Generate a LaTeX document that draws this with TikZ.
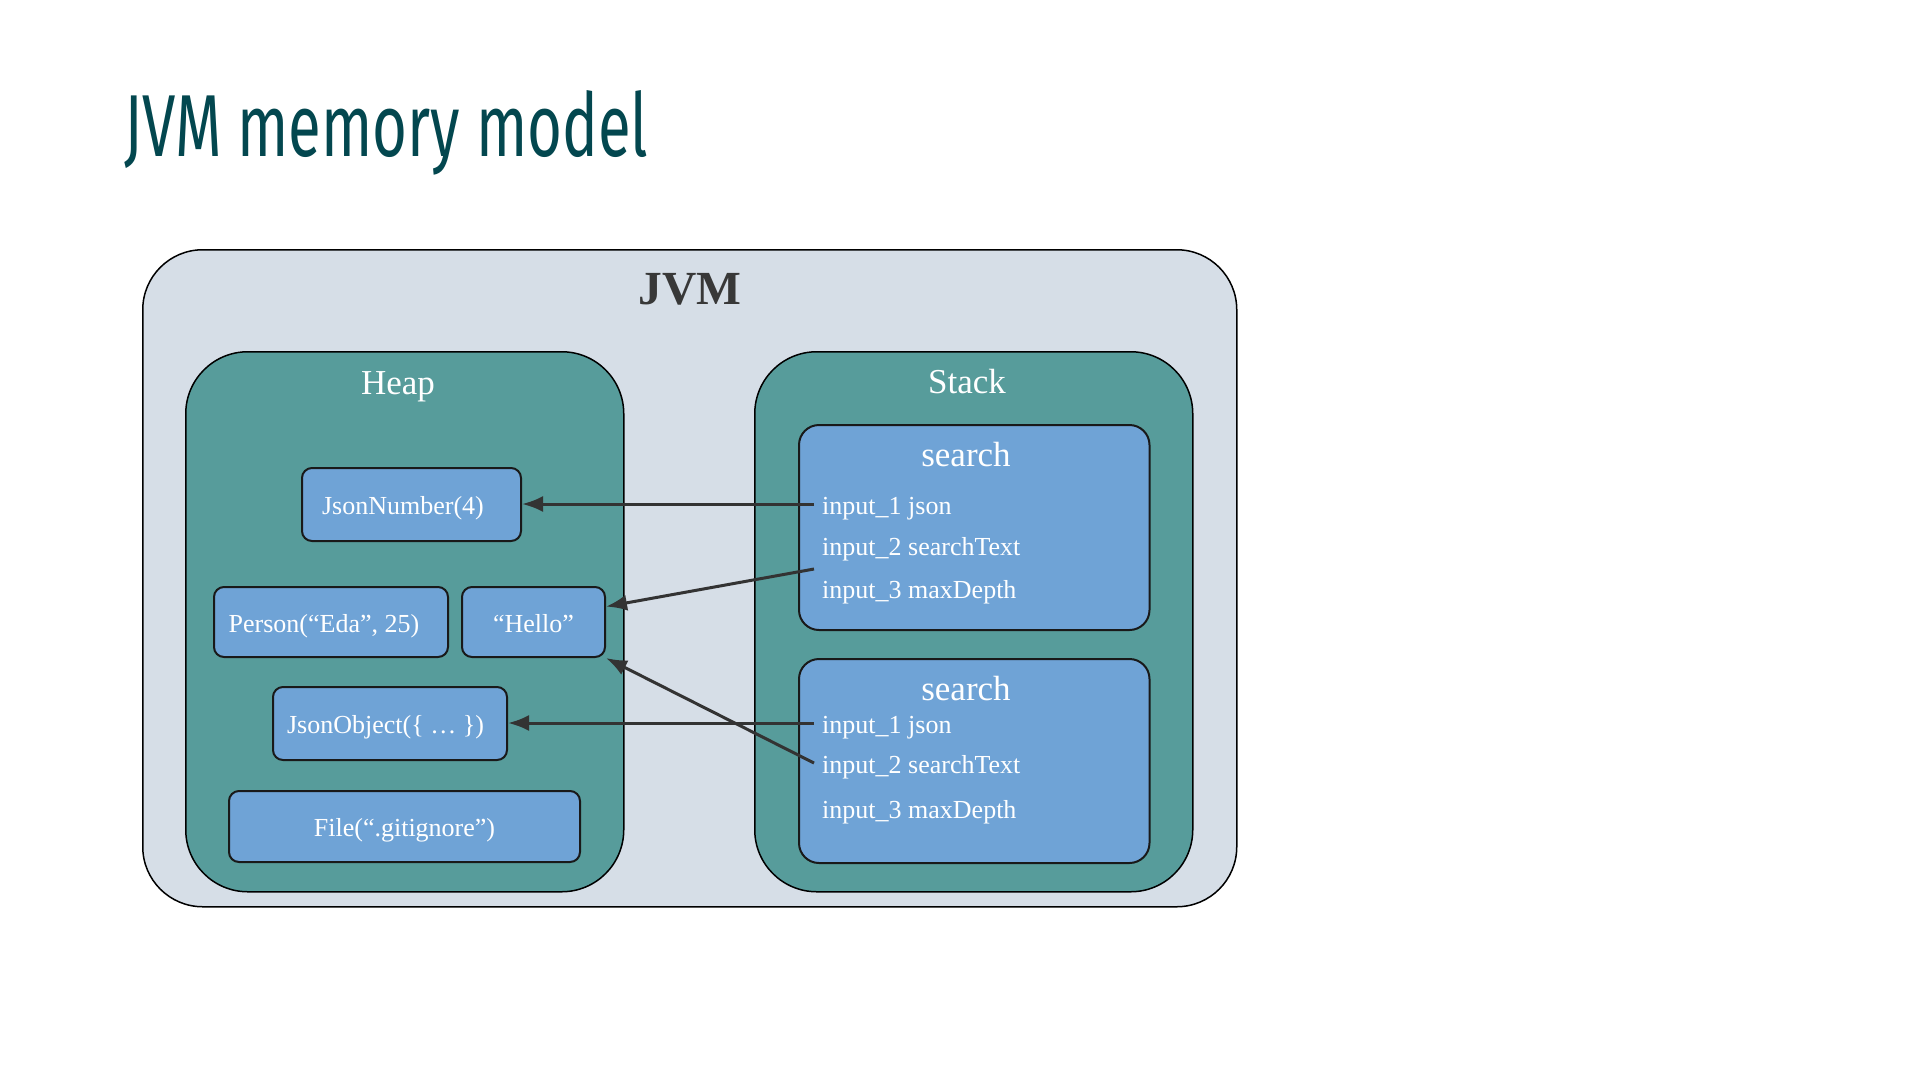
\documentclass[tikz,border=0pt]{standalone}
\usepackage{fontspec}
\setmainfont{Liberation Serif}
\newfontfamily\titlefont[FakeStretch=0.68]{Fira Sans}
\usetikzlibrary{arrows.meta, positioning}
\definecolor{titleteal}{HTML}{03474F}
\definecolor{jvmgray}{HTML}{D6DEE7}
\definecolor{heapteal}{HTML}{579C9B}
\definecolor{objblue}{HTML}{6FA3D6}
\definecolor{arrowgray}{HTML}{333333}

\begin{document}
\begin{tikzpicture}[x=1pt,y=-1pt,>={Latex[length=21pt,width=16pt]},
    area/.style={draw=black,line width=1.5pt,anchor=north west,inner sep=0pt},
    object/.style={draw=black!90,fill=objblue,line width=2pt,rounded corners=10pt,
      text=white,font=\fontsize{26}{30}\selectfont,inner sep=0pt,
      text height=20pt,text depth=0pt},
    leftpad/.style={execute at end node={\kern#1}},
    frame/.style={object,rounded corners=20pt,anchor=north west},
    areatitle/.style={anchor=base,text=white,font=\fontsize{35}{40}\selectfont},
    input/.style={anchor=base west,inner sep=0pt,inner xsep=8pt,text=white,
      font=\fontsize{26}{30}\selectfont,text height=20pt,text depth=0pt},
    ref/.style={->,draw=arrowgray,line width=3pt}]
  \useasboundingbox[fill=white] (0,0) rectangle (1920,1080);
  \node[anchor=base west,text=titleteal,font=\titlefont\fontsize{88}{96}\selectfont,inner sep=0pt]
    (title) at (124,156) {JVM memory model};
  % containers
  \node[area,fill=jvmgray,rounded corners=60pt,minimum width=1094pt,minimum height=657pt] (jvm) at (142,249) {};
  \node[text=black!78,font=\bfseries\fontsize{47.5}{52}\selectfont] (jvmlabel) at (690,289) {JVM};
  \node[area,fill=heapteal,rounded corners=62pt,minimum width=438pt,minimum height=540pt] (heap) at (185,351) {};
  \node[area,fill=heapteal,rounded corners=62pt,minimum width=438pt,minimum height=540pt] (stack) at (754,351) {};
  \node[areatitle] (heaplabel) at (398,394) {Heap};
  \node[areatitle] (stacklabel) at (967,393) {Stack};
  % heap objects
  \node[object,leftpad=17pt,minimum width=219pt,minimum height=73pt] (number) at (411.5,504.5) {JsonNumber(4)};
  \node[object,leftpad=14pt,minimum width=234pt,minimum height=70pt] (person) at (331,622) {Person(“Eda”, 25)};
  \node[object,minimum width=143pt,minimum height=70pt] (hello) at (533.5,622) {“Hello”};
  \node[object,leftpad=9pt,minimum width=234pt,minimum height=73pt] (object) at (390,723.5) {JsonObject(\{ … \})};
  \node[object,minimum width=351pt,minimum height=71pt] (file) at (404.5,826.5) {File(“.gitignore”)};
  % stack frames
  \node[frame,minimum width=350.5pt,minimum height=205pt] (frame1) at (798,424) {};
  \node[frame,minimum width=350.5pt,minimum height=204pt] (frame2) at (798,658) {};
  \node[areatitle] (name1) at (966,466) {search};
  \node[areatitle] (name2) at (966,700) {search};
  \node[input] (in11) at (814,514) {input\_1 json};
  \node[input] (in12) at (814,555) {input\_2 searchText};
  \node[input] (in13) at (814,598) {input\_3 maxDepth};
  \node[input] (in21) at (814,733) {input\_1 json};
  \node[input] (in22) at (814,773) {input\_2 searchText};
  \node[input] (in23) at (814,818) {input\_3 maxDepth};
  \coordinate (from12) at (814,569);
  % references
  \draw[ref] (in11.west) -- (number.east |- in11.west);
  \draw[ref] (from12) -- (hello.12);
  \draw[ref] (in21.west) -- (object.east |- in21.west);
  \draw[ref] (in22.west) -- (hello.south east);
\end{tikzpicture}
\end{document}
